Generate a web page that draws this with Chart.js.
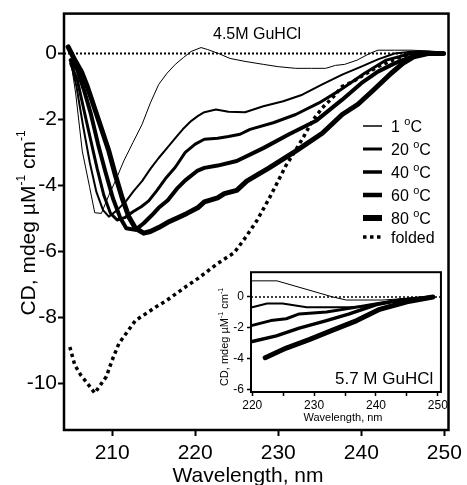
<!DOCTYPE html>
<html>
<head>
<meta charset="utf-8">
<script src="https://cdn.jsdelivr.net/npm/chart.js@4.4.1/dist/chart.umd.min.js"></script>
<style>
html, body { margin: 0; padding: 0; background: #fff; }
#wrap { position: relative; width: 467px; height: 485px; }
#mainChart { position: absolute; left: 0; top: 0; z-index: 2; }
#insetChart { position: absolute; left: 215px; top: 262px; background: #fff; z-index: 1; }
</style>
</head>
<body>
<div id="wrap">
  <canvas id="mainChart" width="467" height="485"></canvas>
  <canvas id="insetChart" width="235" height="165"></canvas>
</div>
<script>
const FONT = '"Liberation Sans", Arial, sans-serif';

// --- main panel: 4.5M GuHCl ---
const X_TICKS = [210, 220, 230, 240, 250];
const Y_TICKS = [-10, -8, -6, -4, -2, 0];

const WL_1C = [205, 205.6, 206.4, 207.3, 207.9, 208.7, 209.6, 210.5, 211.4, 212.5, 213.6, 214.6, 215.6, 216.6, 217.6, 218.6, 219.5, 220.7, 221.5, 222.8, 224.2, 226, 228.2, 230, 232.1, 234, 235.7, 236.9, 238, 239.5, 241, 242, 244, 246, 248, 249.5];
const CD_1C = [-0.2, -1.2, -2.96, -4.07, -4.83, -4.85, -4.3, -3.8, -3.26, -2.7, -2.15, -1.5, -0.94, -0.6, -0.33, -0.12, 0.06, 0.18, 0.12, 0.0, -0.15, -0.24, -0.33, -0.4, -0.45, -0.45, -0.45, -0.36, -0.33, -0.2, 0.0, 0.1, 0.1, 0.1, 0.08, 0.05];

const WL_20C = [205, 205.7, 206.5, 207.3, 208.1, 208.9, 209.6, 210.6, 211.7, 212.6, 213.6, 214.6, 215.6, 216.6, 217.6, 218.5, 219.5, 220.3, 221.1, 222.5, 224, 226, 228.2, 230.6, 232.9, 235.3, 237.7, 240, 242, 244, 246, 248, 249.5];
const CD_20C = [-0.25, -1.0, -2.2, -3.3, -4.2, -4.75, -4.95, -4.75, -4.47, -4.17, -3.87, -3.5, -3.17, -2.87, -2.57, -2.3, -2.05, -1.9, -1.78, -1.7, -1.77, -1.78, -1.6, -1.45, -1.25, -0.94, -0.64, -0.4, -0.18, 0, 0.05, 0.05, 0.03];

const WL_40C = [205, 205.8, 206.5, 207.3, 208.2, 209, 209.8, 210.6, 211.5, 212.5, 213.5, 214.4, 215.4, 216.4, 217.6, 218.8, 220, 221.1, 222.7, 224, 225.4, 226.6, 229.4, 232.1, 234.9, 237.2, 240.4, 243, 246, 249.5];
const CD_40C = [-0.3, -0.8, -1.6, -2.5, -3.5, -4.3, -4.85, -5.05, -4.98, -4.8, -4.65, -4.47, -4.15, -3.8, -3.45, -3.0, -2.75, -2.6, -2.57, -2.52, -2.45, -2.3, -2.1, -1.85, -1.5, -1.15, -0.6, -0.2, 0, 0];

const WL_60C = [205, 205.8, 206.6, 207.4, 208.3, 209.2, 210.1, 211, 211.7, 212.8, 213.8, 214.8, 215.6, 216.7, 217.8, 218.8, 220.3, 221.1, 222.7, 225, 228.2, 231.3, 234.5, 237.7, 240, 242, 244, 246, 248, 249.8];
const CD_60C = [-0.2, -0.5, -1.1, -1.8, -2.75, -3.6, -4.4, -5.0, -5.3, -5.35, -5.15, -4.9, -4.68, -4.45, -4.1, -3.85, -3.55, -3.47, -3.4, -3.26, -2.87, -2.45, -2.05, -1.4, -0.9, -0.55, -0.3, -0.1, 0, 0];

const WL_80C = [204.7, 205.5, 206.3, 207, 207.6, 208.6, 209.6, 210.4, 211.2, 212, 212.8, 213.8, 214.6, 215.6, 216.7, 217.9, 219, 220.3, 221.1, 222.7, 223.5, 225, 226.2, 228.9, 232.1, 235.3, 237.7, 239.6, 241.5, 243.6, 245, 246.3, 248, 249.9];
const CD_80C = [0.2, -0.2, -0.55, -1.0, -1.45, -2.2, -2.96, -3.7, -4.38, -4.95, -5.3, -5.45, -5.4, -5.28, -5.12, -4.98, -4.85, -4.68, -4.5, -4.38, -4.25, -4.15, -3.87, -3.47, -2.96, -2.42, -1.85, -1.54, -1.1, -0.6, -0.3, -0.1, 0, 0];

const WL_FOLD = [204.9, 205.5, 206.2, 207.0, 207.9, 208.6, 209.3, 210.0, 210.8, 211.8, 212.8, 214.0, 215.2, 216.5, 217.9, 219.0, 220.3, 221.5, 222.7, 224.7, 226.0, 227.4, 228.9, 229.8, 230.9, 231.8, 233, 234.1, 235.3, 236.5, 237.7, 239, 240.5, 242, 243.6, 245, 246, 247.5];
const CD_FOLD = [-8.9, -9.45, -9.75, -10.0, -10.3, -10.05, -9.8, -9.3, -8.8, -8.45, -8.1, -7.9, -7.7, -7.5, -7.25, -7.05, -6.83, -6.6, -6.37, -6.04, -5.6, -5.08, -4.4, -3.96, -3.41, -3.05, -2.55, -2.05, -1.65, -1.35, -1.0, -0.85, -0.62, -0.4, -0.22, -0.08, -0.02, 0];

// --- inset: 5.7 M GuHCl ---
const IN_X_TICKS = [220, 225, 230, 235, 240, 245, 250];
const IN_Y_TICKS = [-6, -4, -2, 0];

const IN_WL_1C = [220, 224, 233, 235.2, 241, 249];
const IN_CD_1C = [1.04, 1.04, 0, -0.2, -0.2, 0];
const IN_WL_20C = [220, 222.4, 224.9, 228.8, 235.7, 238, 241.7, 245, 249];
const IN_CD_20C = [-0.67, -0.43, -0.43, -0.67, -0.67, -0.6, -0.37, -0.15, 0];
const IN_WL_40C = [220, 223, 225.5, 227.6, 232, 235.7, 239.4, 244, 249];
const IN_CD_40C = [-1.84, -1.53, -1.41, -1.1, -0.98, -0.74, -0.49, -0.2, 0];
const IN_WL_60C = [220, 223.9, 227.6, 232, 235.7, 240.1, 244, 249];
const IN_CD_60C = [-2.88, -2.52, -2.02, -1.53, -1.1, -0.49, -0.2, 0];
const IN_WL_80C = [222.1, 225.5, 229.2, 233, 236.9, 240.6, 245, 249.2];
const IN_CD_80C = [-3.93, -3.31, -2.76, -2.15, -1.53, -0.8, -0.31, 0];

const LEGEND_TEMPS = ['1', '20', '40', '60', '80'];

const pts = (wl, cd) => wl.map((x, i) => ({ x: x, y: cd[i] }));

function line(data, w, dash) {
    return {
        data: data,
        borderColor: '#000',
        borderWidth: w,
        borderDash: dash || [],
        borderCapStyle: dash ? 'butt' : 'round',
        borderJoinStyle: 'round',
        pointRadius: 0,
        tension: 0,
        fill: false
    };
}

// text with raised bits, e.g. [['CD, mdeg µM', 20, 0], ['-1', 12, -9]]
function drawParts(ctx, parts, x, y, center) {
    let total = 0;
    parts.forEach(p => { ctx.font = p[1] + 'px ' + FONT; total += ctx.measureText(p[0]).width; });
    let cx = center ? x - total / 2 : x;
    parts.forEach(p => {
        ctx.font = p[1] + 'px ' + FONT;
        ctx.fillText(p[0], cx, y + p[2]);
        cx += ctx.measureText(p[0]).width;
    });
}

const mainDecor = {
    id: 'mainDecor',
    afterDraw(chart) {
        const ctx = chart.ctx, ca = chart.chartArea;
        ctx.save();
        ctx.strokeStyle = '#000';
        ctx.lineWidth = 2.5;
        ctx.strokeRect(ca.left, ca.top, ca.right - ca.left, ca.bottom - ca.top);

        ctx.fillStyle = '#000';
        ctx.textBaseline = 'alphabetic';
        ctx.textAlign = 'left';
        ctx.font = '16px ' + FONT;
        ctx.fillText('4.5M GuHCl', 213, 39);

        // x title
        ctx.font = '21px ' + FONT;
        ctx.textAlign = 'center';
        ctx.fillText('Wavelength, nm', 248, 482);
        ctx.textAlign = 'left';

        // y title
        ctx.save();
        ctx.translate(35, 223);
        ctx.rotate(-Math.PI / 2);
        drawParts(ctx, [['CD, mdeg µM', 21, 0], ['-1', 12, -10], [' cm', 21, 0], ['-1', 12, -10]], 0, 0, true);
        ctx.restore();

        // legend
        const rows = [126, 149, 172, 195, 218];
        const widths = [1.5, 3, 3.5, 4.5, 6];
        LEGEND_TEMPS.forEach((t, i) => {
            ctx.lineWidth = widths[i];
            ctx.setLineDash([]);
            ctx.beginPath();
            ctx.moveTo(363, rows[i]);
            ctx.lineTo(382, rows[i]);
            ctx.stroke();
            drawParts(ctx, [[t + ' ', 16, 0], ['o', 11, -7], ['C', 16, 0]], 391, rows[i] + 6, false);
        });
        ctx.lineWidth = 3.5;
        ctx.setLineDash([3.5, 3.5]);
        ctx.beginPath();
        ctx.moveTo(363, 237);
        ctx.lineTo(384, 237);
        ctx.stroke();
        ctx.setLineDash([]);
        ctx.font = '16px ' + FONT;
        ctx.fillText('folded', 391, 243);
        ctx.restore();
    }
};

const insetDecor = {
    id: 'insetDecor',
    afterDraw(chart) {
        const ctx = chart.ctx, ca = chart.chartArea;
        ctx.save();
        ctx.strokeStyle = '#000';
        ctx.lineWidth = 2;
        ctx.strokeRect(ca.left, ca.top, ca.right - ca.left, ca.bottom - ca.top);
        ctx.fillStyle = '#000';
        ctx.textBaseline = 'alphabetic';
        ctx.textAlign = 'left';
        ctx.font = '17px ' + FONT;
        ctx.fillText('5.7 M GuHCl', 120, 122);
        ctx.font = '11px ' + FONT;
        ctx.textAlign = 'center';
        ctx.fillText('Wavelength, nm', 128, 159);
        ctx.textAlign = 'left';
        ctx.save();
        ctx.translate(13, 75);
        ctx.rotate(-Math.PI / 2);
        drawParts(ctx, [['CD, mdeg µM', 11, 0], ['-1', 7, -5], [' cm', 11, 0], ['-1', 7, -5]], 0, 0, true);
        ctx.restore();
        ctx.restore();
    }
};

const XMIN = 204.2, XMAX = 250.5;

new Chart(document.getElementById('mainChart').getContext('2d'), {
    type: 'line',
    data: {
        datasets: [
            line([{ x: XMIN, y: 0 }, { x: XMAX, y: 0 }], 2, [2, 2]),
            line(pts(WL_1C, CD_1C), 1),
            line(pts(WL_20C, CD_20C), 2),
            line(pts(WL_40C, CD_40C), 3),
            line(pts(WL_60C, CD_60C), 4),
            line(pts(WL_80C, CD_80C), 5),
            line(pts(WL_FOLD, CD_FOLD), 3.5, [3.5, 3.5])
        ]
    },
    options: {
        responsive: false,
        animation: false,
        layout: { padding: { top: 12, right: 12, left: 0, bottom: 0 } },
        plugins: { legend: { display: false }, tooltip: { enabled: false } },
        scales: {
            x: {
                type: 'linear', min: XMIN, max: XMAX,
                afterBuildTicks: s => { s.ticks = X_TICKS.map(v => ({ value: v })); },
                afterFit: s => { s.height = 55; },
                border: { display: false },
                grid: { drawOnChartArea: false, tickLength: 6, tickWidth: 2, tickColor: '#000' },
                ticks: { color: '#000', font: { family: FONT, size: 21 }, padding: 5, maxRotation: 0, autoSkip: false }
            },
            y: {
                min: -11.42, max: 1.21,
                afterBuildTicks: s => { s.ticks = Y_TICKS.map(v => ({ value: v })); },
                afterFit: s => { s.width = 64; },
                border: { display: false },
                grid: { drawOnChartArea: false, tickLength: 6, tickWidth: 2, tickColor: '#000' },
                ticks: { color: '#000', font: { family: FONT, size: 21 }, padding: 1, autoSkip: false }
            }
        }
    },
    plugins: [mainDecor]
});

const IXMIN = 219.8, IXMAX = 250.5;

new Chart(document.getElementById('insetChart').getContext('2d'), {
    type: 'line',
    data: {
        datasets: [
            line([{ x: IXMIN, y: 0 }, { x: IXMAX, y: 0 }], 1.5, [2, 2]),
            line(pts(IN_WL_1C, IN_CD_1C), 1),
            line(pts(IN_WL_20C, IN_CD_20C), 2),
            line(pts(IN_WL_40C, IN_CD_40C), 3),
            line(pts(IN_WL_60C, IN_CD_60C), 3.5),
            line(pts(IN_WL_80C, IN_CD_80C), 5)
        ]
    },
    options: {
        responsive: false,
        animation: false,
        layout: { padding: { top: 4, right: 9, left: 0, bottom: 0 } },
        plugins: { legend: { display: false }, tooltip: { enabled: false } },
        scales: {
            x: {
                type: 'linear', min: IXMIN, max: IXMAX,
                afterBuildTicks: s => { s.ticks = IN_X_TICKS.map(v => ({ value: v })); },
                afterFit: s => { s.height = 35; },
                border: { display: false },
                grid: { drawOnChartArea: false, tickLength: 4, tickWidth: 1.5, tickColor: '#000' },
                ticks: {
                    color: '#000', font: { family: FONT, size: 12 }, padding: 2, maxRotation: 0, autoSkip: false,
                    callback: v => (v % 10 === 0 ? v : '')
                }
            },
            y: {
                min: -6.15, max: 1.6,
                afterBuildTicks: s => { s.ticks = IN_Y_TICKS.map(v => ({ value: v })); },
                afterFit: s => { s.width = 36; },
                border: { display: false },
                grid: { drawOnChartArea: false, tickLength: 4, tickWidth: 1.5, tickColor: '#000' },
                ticks: { color: '#000', font: { family: FONT, size: 12 }, padding: 3, autoSkip: false }
            }
        }
    },
    plugins: [insetDecor]
});
</script>
</body>
</html>
